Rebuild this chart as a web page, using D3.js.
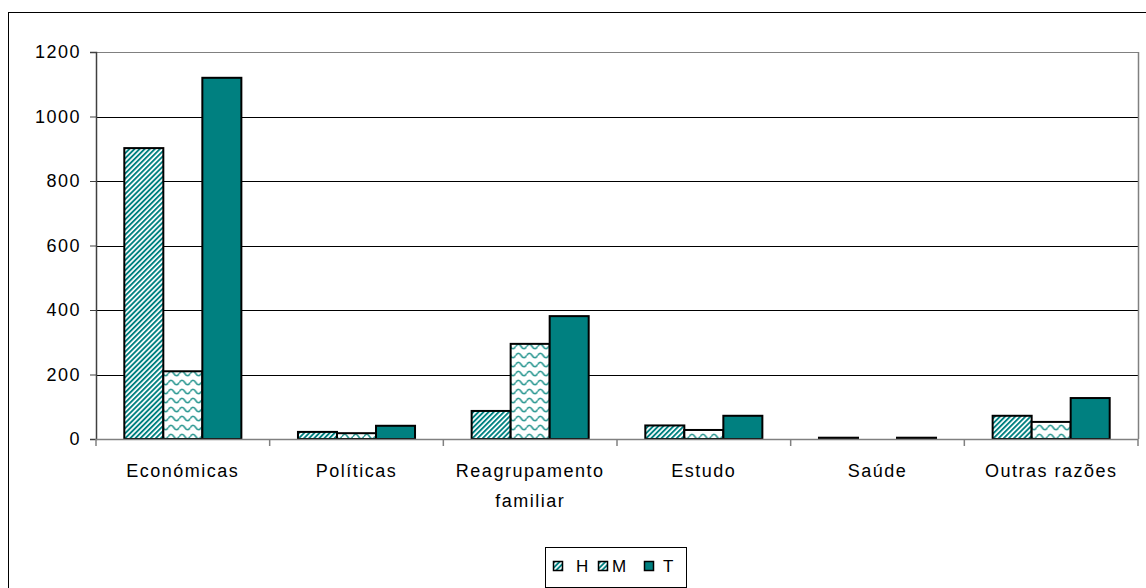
<!DOCTYPE html>
<html>
<head>
<meta charset="utf-8">
<script src="https://cdn.jsdelivr.net/npm/d3@7"></script>
<style>
  body { margin: 0; background: #fff; }
  svg { display: block; }
  text { font-family: "Liberation Sans", Arial, sans-serif; fill: #000; }
</style>
</head>
<body>
<svg id="chart" width="1146" height="588"></svg>
<script>
const categories = ["Económicas", "Políticas", "Reagrupamento familiar", "Estudo", "Saúde", "Outras razões"];
const seriesKeys = ["H", "M", "T"];
const valuesH = [902, 22, 87, 42, 4, 72];
const valuesM = [210, 18, 295, 28, 0, 53];
const valuesT = [1120, 41, 381, 72, 4, 127];
const yTicks = [0, 200, 400, 600, 800, 1000, 1200];

(function () {
const data = categories.map((c, i) => ({ cat: c, H: valuesH[i], M: valuesM[i], T: valuesT[i] }));

const svg = d3.select("#chart");
const teal = "#008080";

// patterns
const defs = svg.append("defs");
const pH = defs.append("pattern").attr("id", "patH").attr("patternUnits", "userSpaceOnUse")
  .attr("width", 3.6).attr("height", 3.6).attr("patternTransform", "rotate(45)");
pH.append("rect").attr("width", 3.6).attr("height", 3.6).attr("fill", "#fff");
pH.append("rect").attr("width", 1.9).attr("height", 3.6).attr("fill", teal);

const pM = defs.append("pattern").attr("id", "patM").attr("patternUnits", "userSpaceOnUse")
  .attr("width", 11).attr("height", 9);
pM.append("rect").attr("width", 11).attr("height", 9).attr("fill", "#fff");
pM.append("path").attr("d", "M0,4.5 C1.8,1.5 3.7,1.5 5.5,4.5 C7.3,7.5 9.2,7.5 11,4.5")
  .attr("fill", "none").attr("stroke", "#2f9a94").attr("stroke-width", 1.7);

const fills = { H: "url(#patH)", M: "url(#patM)", T: teal };

// outer border
svg.append("rect").attr("x", 8.5).attr("y", 12.5).attr("width", 1160).attr("height", 600)
  .attr("fill", "none").attr("stroke", "#000").attr("stroke-width", 1);

const pLeft = 96, pRight = 1138, pTop = 52, pBottom = 439;
const y = d3.scaleLinear().domain([0, 1200]).range([pBottom, pTop]);
const x = d3.scaleBand().domain(categories).range([pLeft, pRight]).paddingInner(0.326).paddingOuter(0.163);
const xi = d3.scaleBand().domain(seriesKeys).range([0, x.bandwidth()]);
const step = x.step();

// gridlines
svg.append("g").selectAll("line").data(yTicks.filter(d => d > 0)).join("line")
  .attr("x1", pLeft).attr("x2", pRight)
  .attr("y1", d => Math.round(y(d)) + 0.5).attr("y2", d => Math.round(y(d)) + 0.5)
  .attr("stroke", d => d === 1200 ? "#808080" : "#000").attr("stroke-width", 1);

// right plot border
svg.append("line").attr("x1", pRight + 0.5).attr("x2", pRight + 0.5).attr("y1", pTop).attr("y2", pBottom)
  .attr("stroke", "#808080").attr("stroke-width", 1.5);

// bars
const groups = svg.append("g").selectAll("g").data(data).join("g")
  .attr("transform", d => `translate(${x(d.cat)},0)`);
groups.selectAll("rect").data(d => seriesKeys.map(k => ({ k, v: d[k] })).filter(e => e.v > 0)).join("rect")
  .attr("x", d => xi(d.k))
  .attr("y", d => y(d.v))
  .attr("width", xi.bandwidth())
  .attr("height", d => y(0) - y(d.v))
  .attr("fill", d => fills[d.k])
  .attr("stroke", "#000").attr("stroke-width", 2);

// y axis
const yAxis = d3.axisLeft(y).tickValues(yTicks).tickSize(6).tickPadding(9).tickFormat(d3.format("d"));
const gy = svg.append("g").attr("transform", `translate(${pLeft},0)`).call(yAxis);
gy.select(".domain").attr("stroke", "#404040").attr("stroke-width", 1.5);
gy.selectAll(".tick line").attr("stroke", "#404040");
gy.selectAll(".tick text").attr("font-size", 18).attr("letter-spacing", "1.5px")
  .attr("font-family", "'Liberation Sans', Arial, sans-serif").attr("fill", "#000");

// x axis line and boundary ticks
svg.append("line").attr("x1", pLeft).attr("x2", pRight).attr("y1", pBottom + 0.5).attr("y2", pBottom + 0.5)
  .attr("stroke", "#808080").attr("stroke-width", 1.5);
const boundaries = d3.range(categories.length + 1).map(i => pLeft + i * step);
svg.append("g").selectAll("line").data(boundaries).join("line")
  .attr("x1", d => d).attr("x2", d => d).attr("y1", pBottom).attr("y2", pBottom + 7)
  .attr("stroke", "#808080").attr("stroke-width", 1.5);

// category labels
const labelLines = { "Reagrupamento familiar": ["Reagrupamento", "familiar"] };
const labs = svg.append("g").selectAll("text").data(categories).join("text")
  .attr("text-anchor", "middle").attr("font-size", 18).attr("letter-spacing", "1.5px");
labs.each(function (d) {
  const lines = labelLines[d] || [d];
  const t = d3.select(this);
  lines.forEach((ln, i) => {
    t.append("tspan").attr("x", x(d) + x.bandwidth() / 2).attr("y", 477 + i * 30).text(ln);
  });
});

// legend
const lg = svg.append("g");
lg.append("rect").attr("x", 545.5).attr("y", 547.5).attr("width", 141).attr("height", 40)
  .attr("fill", "#fff").attr("stroke", "#000").attr("stroke-width", 1);
const legendItems = [
  { k: "H", sx: 553, tx: 576 },
  { k: "M", sx: 598, tx: 612 },
  { k: "T", sx: 644, tx: 663 }
];
const li = lg.selectAll("g").data(legendItems).join("g");
li.append("rect").attr("x", d => d.sx + 0.5).attr("y", 561.5).attr("width", 9).attr("height", 9)
  .attr("fill", d => d.k === "T" ? teal : "url(#patH)").attr("stroke", "#000").attr("stroke-width", 1.5);
li.append("text").attr("x", d => d.tx).attr("y", 572).attr("font-size", 17)
  .text(d => d.k);
})();
</script>
</body>
</html>
